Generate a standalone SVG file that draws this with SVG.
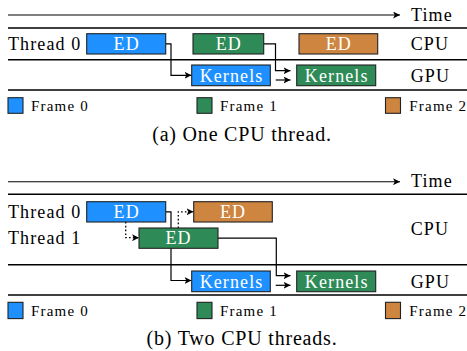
<svg xmlns="http://www.w3.org/2000/svg" width="467" height="351" viewBox="0 0 467 351">
<defs>
<marker id="arr" markerUnits="userSpaceOnUse" markerWidth="8" markerHeight="7" refX="7" refY="3.5" orient="auto">
<path d="M0,0 L7,3.5 L0,7 L1.8,3.5 Z" fill="#000"/>
</marker>
<style>
text{font-family:"Liberation Serif","Times New Roman",serif;fill:#000}
.lbl{font-size:18px;letter-spacing:1.1px}
.box{stroke:#222;stroke-width:1.1}
.in{font-size:18px;fill:#fff;text-anchor:middle;letter-spacing:1.1px}
.leg{font-size:15px;letter-spacing:1.2px}
.cap{font-size:20px;letter-spacing:0.8px;text-anchor:middle}
.sep{stroke:#000;stroke-width:1.6;fill:none}
.ax{stroke:#000;stroke-width:1.1;fill:none}
.con{stroke:#000;stroke-width:1.2;fill:none}
.dot{stroke:#000;stroke-width:1.3;fill:none;stroke-dasharray:1.6 2.2}
.b{fill:#1E90FF}.g{fill:#2E8B57}.o{fill:#CD853F}
</style>
</defs>

<!-- (a) One CPU thread -->
<g id="a-axes">
<path class="ax" d="M8,15 H400" marker-end="url(#arr)"/>
<text class="lbl" x="411" y="21">Time</text>
<path class="sep" d="M8,28 H467 M8,59.7 H467 M8,90 H467"/>
<text class="lbl" x="8" y="50">Thread 0</text>
<text class="lbl" x="410.7" y="50">CPU</text>
<text class="lbl" x="410.7" y="82">GPU</text>
</g>
<g id="a-connectors">
<path class="con" d="M165.7,43.8 H171 V75.3 H191.5" marker-end="url(#arr)"/>
<path class="con" d="M263.7,43.8 H275.5 V70.7 H290.5" marker-end="url(#arr)"/>
<path class="con" d="M275.7,80 H290.5" marker-end="url(#arr)"/>
</g>
<g id="a-ed0"><rect class="box b" x="86.7" y="33.7" width="79" height="20.3"/><text class="in" x="126.7" y="50">ED</text></g>
<g id="a-ed1"><rect class="box g" x="193" y="33.7" width="70.7" height="20.3"/><text class="in" x="228.8" y="50">ED</text></g>
<g id="a-ed2"><rect class="box o" x="299" y="33.7" width="78.7" height="20.3"/><text class="in" x="338.8" y="50">ED</text></g>
<g id="a-k0"><rect class="box b" x="191.7" y="65" width="78.6" height="20.7"/><text class="in" x="231.5" y="81.7">Kernels</text></g>
<g id="a-k1"><rect class="box g" x="296.7" y="65" width="79" height="20.7"/><text class="in" x="336.7" y="81.7">Kernels</text></g>
<g id="a-legend">
<rect class="box b" x="8" y="97.7" width="15" height="15.6"/><text class="leg" x="31" y="111">Frame 0</text>
<rect class="box g" x="197" y="97.7" width="15" height="15.6"/><text class="leg" x="220" y="111">Frame 1</text>
<rect class="box o" x="385.5" y="97.7" width="15" height="15.6"/><text class="leg" x="409.3" y="111">Frame 2</text>
</g>
<text class="cap" x="242" y="141">(a) One CPU thread.</text>

<!-- (b) Two CPU threads -->
<g id="b-axes">
<path class="ax" d="M8,181.7 H400" marker-end="url(#arr)"/>
<text class="lbl" x="411" y="187">Time</text>
<path class="sep" d="M8,194.3 H467 M8,264.7 H467 M8,295 H467"/>
<text class="lbl" x="8" y="218">Thread 0</text>
<text class="lbl" x="8" y="244">Thread 1</text>
<text class="lbl" x="410.7" y="235">CPU</text>
<text class="lbl" x="410.7" y="288">GPU</text>
</g>
<g id="b-connectors">
<path class="con" d="M165.7,211.8 H171 V280.5 H191.5" marker-end="url(#arr)"/>
<path class="dot" d="M125.7,222 V237.7 H139" marker-end="url(#arr)"/>
<path class="dot" d="M178.3,228 V211.8 H193.5" marker-end="url(#arr)"/>
<path class="con" d="M218,238.2 H276.3 V275.7 H290.5" marker-end="url(#arr)"/>
<path class="con" d="M275.7,285.3 H290.5" marker-end="url(#arr)"/>
</g>
<g id="b-ed0"><rect class="box b" x="86.7" y="201.7" width="79" height="20.3"/><text class="in" x="126.7" y="218">ED</text></g>
<g id="b-ed2"><rect class="box o" x="193.7" y="201.7" width="78.6" height="20.3"/><text class="in" x="233" y="218">ED</text></g>
<g id="b-ed1"><rect class="box g" x="139" y="228" width="79" height="20.3"/><text class="in" x="178.5" y="244.3">ED</text></g>
<g id="b-k0"><rect class="box b" x="191.7" y="271" width="78.6" height="20.7"/><text class="in" x="231.5" y="287.7">Kernels</text></g>
<g id="b-k1"><rect class="box g" x="296.7" y="271" width="79" height="20.7"/><text class="in" x="336.7" y="287.7">Kernels</text></g>
<g id="b-legend">
<rect class="box b" x="8" y="302.3" width="15" height="16.3"/><text class="leg" x="31" y="316">Frame 0</text>
<rect class="box g" x="197" y="302.3" width="15" height="16.3"/><text class="leg" x="220" y="316">Frame 1</text>
<rect class="box o" x="385.5" y="302.3" width="15" height="16.3"/><text class="leg" x="409.3" y="316">Frame 2</text>
</g>
<text class="cap" x="242" y="345">(b) Two CPU threads.</text>
</svg>
